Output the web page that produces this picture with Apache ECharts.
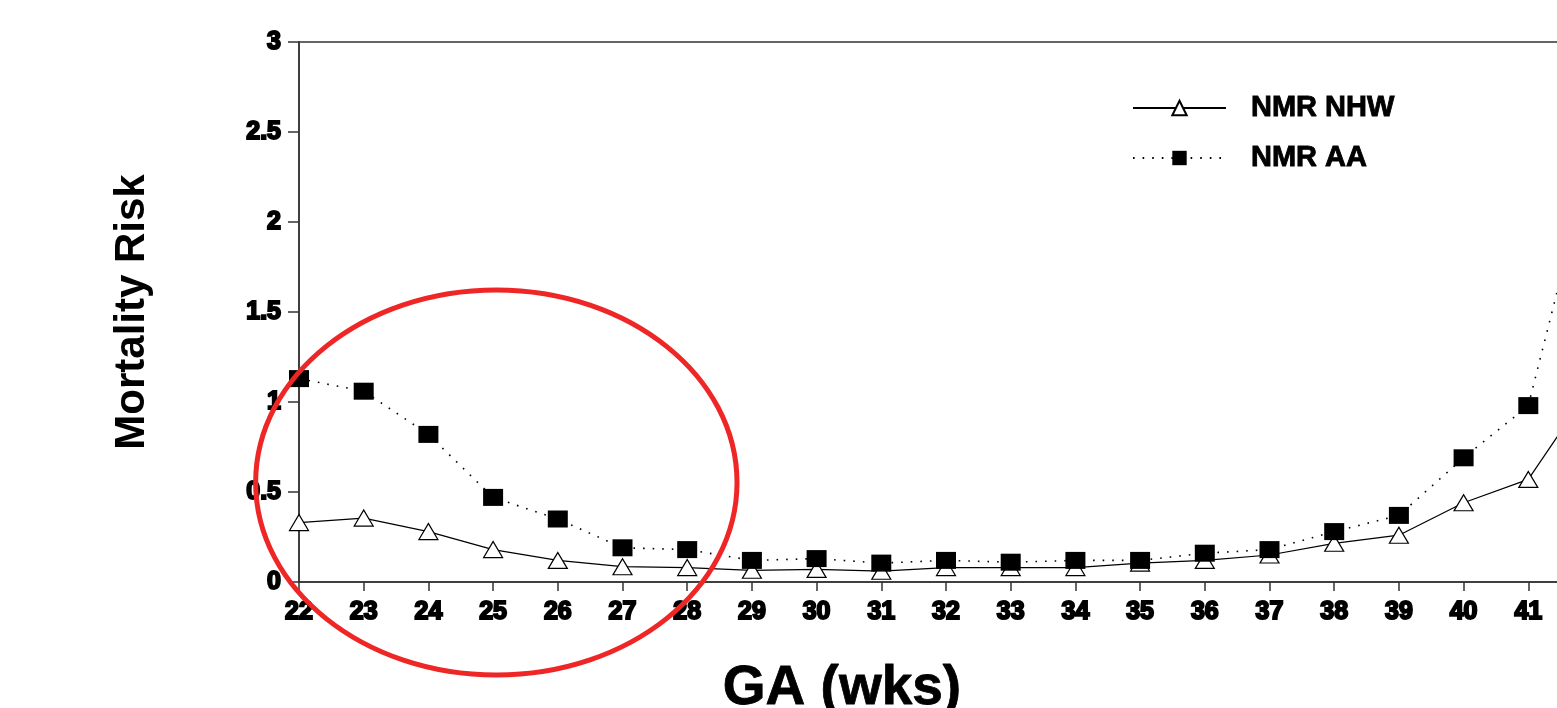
<!DOCTYPE html>
<html>
<head>
<meta charset="utf-8">
<script src="https://cdn.jsdelivr.net/npm/echarts@6/dist/echarts.min.js"></script>
<style>
html,body{margin:0;padding:0;background:#fff;}
#c{width:1557px;height:708px;}
</style>
</head>
<body>
<div id="c"></div>
<script>
// ---- data ----
var weeks = [22,23,24,25,26,27,28,29,30,31,32,33,34,35,36,37,38,39,40,41,42];
var nmrNHW = [0.33,0.355,0.28,0.18,0.12,0.085,0.08,0.065,0.07,0.06,0.08,0.08,0.08,0.105,0.12,0.15,0.215,0.26,0.44,0.57,1.1];
var nmrAA  = [1.13,1.06,0.82,0.47,0.35,0.19,0.18,0.12,0.13,0.105,0.12,0.11,0.12,0.12,0.16,0.18,0.28,0.37,0.69,0.98,2.4];
var seriesNames = ['NMR NHW','NMR AA'];
var yTicks = [0,0.5,1,1.5,2,2.5,3];
var xTitle = 'GA (wks)';
var yTitle = 'Mortality Risk';
// highlighted region (data coords): center and extents
var ring = {cx:25.05, cy:0.553, x0:21.26, x1:28.7, y0:-0.517, y1:1.622};

function pairs(xs, ys){ return xs.map(function(x,i){ return [x, ys[i]]; }); }

var FONT = '"Liberation Sans", Arial, sans-serif';
var tickLabel = {color:'#000', fontFamily:FONT, fontWeight:'bold', fontSize:25, textBorderColor:'#000', textBorderWidth:2};

var chart = echarts.init(document.getElementById('c'), null, {renderer:'canvas'});
var option = {
  backgroundColor:'#fff',
  animation:false,
  grid:{left:299, top:42, width:1294, height:540, outerBoundsMode:'none', containLabel:false,
        show:true, borderColor:'#333', borderWidth:1.5, backgroundColor:'transparent'},
  legend:{
    orient:'vertical', left:1127, top:88, itemGap:20, itemWidth:93, itemHeight:18,
    data:seriesNames,
    textStyle:{color:'#000', fontFamily:FONT, fontWeight:'bold', fontSize:29, lineHeight:30, padding:[0,0,0,20], textBorderColor:'#000', textBorderWidth:0.9}
  },
  xAxis:{
    type:'value', min:22, max:42, interval:1,
    axisLine:{lineStyle:{color:'#333', width:1.5}},
    axisTick:{show:true, inside:false, length:9, lineStyle:{color:'#333', width:1.5}},
    axisLabel:Object.assign({margin:18, formatter:function(v){return v===42?'':String(v);}}, tickLabel),
    splitLine:{show:false}
  },
  yAxis:{
    type:'value', min:0, max:3, interval:0.5,
    name:yTitle, nameLocation:'middle', nameGap:146, nameRotate:90,
    nameTextStyle:{color:'#000', fontFamily:FONT, fontWeight:'bold', fontSize:42},
    axisLine:{show:true, lineStyle:{color:'#333', width:1.5}},
    axisTick:{show:true, inside:false, length:11, lineStyle:{color:'#333', width:1.5}},
    axisLabel:Object.assign({margin:18, formatter:function(v){return yTicks.indexOf(v)>=0?String(v):'';}}, tickLabel),
    splitLine:{show:false}
  },
  series:[
    {
      name:seriesNames[0], type:'line', data:pairs(weeks,nmrNHW),
      symbol:'triangle', symbolSize:[19,16], z:3,
      itemStyle:{color:'#fff', borderColor:'#000', borderWidth:1.2},
      lineStyle:{color:'#000', width:1.2, type:'solid'}
    },
    {
      name:seriesNames[1], type:'line', data:pairs(weeks,nmrAA),
      symbol:'rect', symbolSize:[20,17], z:4,
      itemStyle:{color:'#000', borderColor:'#000', borderWidth:0},
      lineStyle:{color:'#000', width:1.6, type:[1.6,8]}
    }
  ]
};
chart.setOption(option);

// titles and highlight ring placed via the chart's own coordinate system
var c0 = chart.convertToPixel({gridIndex:0}, [ring.cx, ring.cy]);
var pL = chart.convertToPixel({gridIndex:0}, [ring.x0, ring.cy]);
var pR = chart.convertToPixel({gridIndex:0}, [ring.x1, ring.cy]);
var pT = chart.convertToPixel({gridIndex:0}, [ring.cx, ring.y1]);
var pB = chart.convertToPixel({gridIndex:0}, [ring.cx, ring.y0]);
chart.setOption({
  graphic:[
    {type:'text', x:842, y:689, z:10,
     style:{text:xTitle, fill:'#000', font:'bold 55px ' + FONT, stroke:'#000', lineWidth:0.8, align:'center', verticalAlign:'middle'}},
    {type:'ellipse', z:100,
     shape:{cx:c0[0], cy:c0[1], rx:(pR[0]-pL[0])/2, ry:(pB[1]-pT[1])/2},
     style:{fill:'none', stroke:'#ee2626', lineWidth:5}}
  ]
});
</script>
</body>
</html>
